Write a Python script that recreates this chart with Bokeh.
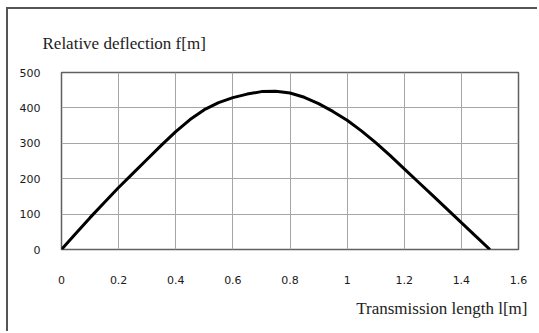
from bokeh.plotting import figure
from bokeh.models import Range1d, FixedTicker, Title
from bokeh.embed import file_html
from bokeh.resources import INLINE

length_m = [0, 0.05, 0.1, 0.15, 0.2, 0.25, 0.3, 0.35, 0.4, 0.45, 0.5, 0.55, 0.6, 0.65,
            0.7, 0.75, 0.8, 0.85, 0.9, 0.95, 1.0, 1.05, 1.1, 1.15, 1.2, 1.25, 1.3, 1.35,
            1.4, 1.45, 1.5]
deflection = [0, 45, 90, 133, 175, 215, 255, 295, 333, 367, 395, 415, 429, 439,
              446, 447, 442, 430, 412, 390, 365, 335, 302, 266, 228, 190, 152, 114,
              76, 38, 0]
x_ticks = [0, 0.2, 0.4, 0.6, 0.8, 1.0, 1.2, 1.4, 1.6]
y_ticks = [0, 100, 200, 300, 400, 500]
x_title = "Transmission length l[m]"
y_title = "Relative deflection f[m]"

p = figure(width=531, height=324, output_backend="svg", toolbar_location=None,
           x_range=Range1d(0, 1.6), y_range=Range1d(0, 500),
           min_border_left=53, min_border_right=21, min_border_top=63, min_border_bottom=84)
p.line(length_m, deflection, line_color="black", line_width=3)

p.xaxis.ticker = FixedTicker(ticks=x_ticks)
p.yaxis.ticker = FixedTicker(ticks=y_ticks)
p.xaxis.major_label_overrides = {0: "0", 1.0: "1"}
for ax in (p.xaxis[0], p.yaxis[0]):
    ax.axis_line_color = None
    ax.major_tick_line_color = None
    ax.minor_tick_line_color = None
    ax.major_label_text_font = "DejaVu Sans"
    ax.major_label_text_font_size = "11px"
    ax.major_label_text_color = "#1a1a1a"
p.xaxis.major_label_standoff = 20
p.yaxis.major_label_standoff = 15

p.xgrid.grid_line_color = "#a6a6a6"
p.ygrid.grid_line_color = "#a6a6a6"
p.outline_line_color = "#606060"
p.outline_line_width = 1.5
p.background_fill_color = "white"
p.border_fill_color = "white"

p.add_layout(Title(text=y_title, align="left", offset=-19, standoff=39,
                   text_font="Liberation Serif", text_font_size="17px",
                   text_font_style="normal", text_color="#222222"), "above")
p.add_layout(Title(text=x_title, align="right", offset=-9, standoff=21,
                   text_font="Liberation Serif", text_font_size="17px",
                   text_font_style="normal", text_color="#222222"), "below")

p.styles = {"margin-left": "6px", "margin-top": "7px",
            "border-top": "2px solid #555555", "border-left": "2px solid #555555"}

open("out.html", "w").write(file_html(p, INLINE))
